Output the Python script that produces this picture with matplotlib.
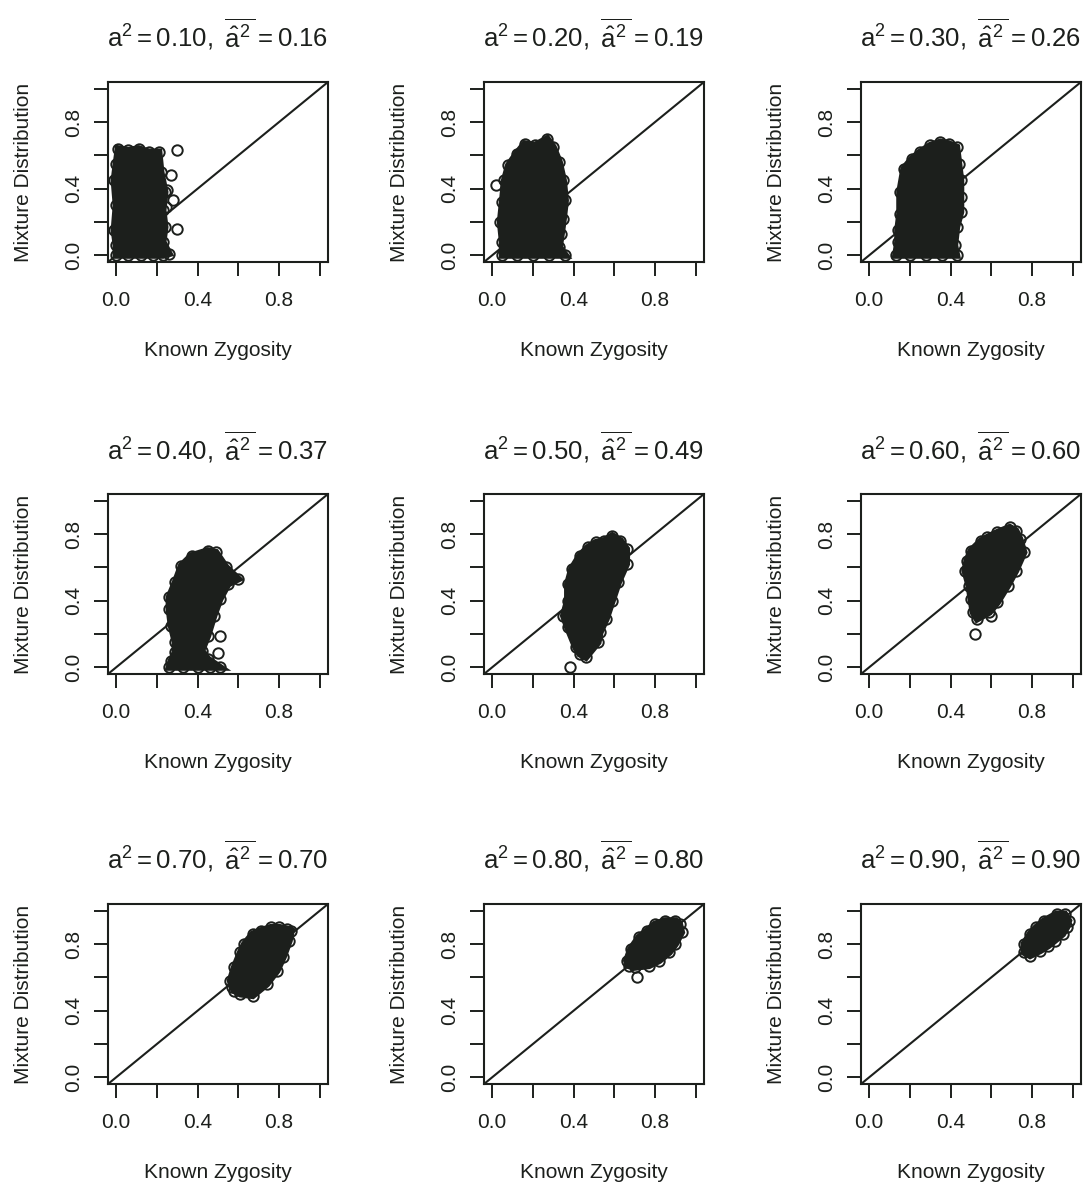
import matplotlib
matplotlib.use('Agg')
import matplotlib.pyplot as plt
import numpy as np

plt.rcParams['font.family'] = ['Liberation Sans', 'DejaVu Sans']
plt.rcParams['mathtext.fontset'] = 'custom'
plt.rcParams['mathtext.rm'] = 'Liberation Sans'
plt.rcParams['mathtext.it'] = 'Liberation Sans:italic'
plt.rcParams['mathtext.bf'] = 'Liberation Sans:bold'

# true and mean estimated a^2 for each panel
true_a2 = [0.10, 0.20, 0.30, 0.40, 0.50, 0.60, 0.70, 0.80, 0.90]
est_a2 = [0.16, 0.19, 0.26, 0.37, 0.49, 0.60, 0.70, 0.80, 0.90]

tick_vals = [0.0, 0.2, 0.4, 0.6, 0.8, 1.0]
tick_labels = ['0.0', '', '0.4', '', '0.8', '']

# outline of each point cloud (centres of the edge circles)
edge10_x = [0.00, 0.06, 0.12, 0.18, 0.23, 0.26, 0.23, 0.24, 0.23, 0.24, 0.22, 0.21, 0.16, 0.11, 0.06, 0.01, 0.00, -0.01, 0.00, -0.01, 0.00]
edge10_y = [0.00, 0.00, 0.00, 0.00, 0.00, 0.01, 0.08, 0.17, 0.27, 0.38, 0.50, 0.62, 0.62, 0.64, 0.63, 0.64, 0.55, 0.45, 0.30, 0.15, 0.06]
edge20_x = [0.05, 0.12, 0.20, 0.28, 0.36, 0.33, 0.34, 0.35, 0.36, 0.35, 0.33, 0.30, 0.27, 0.21, 0.16, 0.12, 0.08, 0.06, 0.05, 0.04, 0.05]
edge20_y = [0.00, 0.00, 0.00, 0.00, 0.00, 0.05, 0.13, 0.22, 0.33, 0.45, 0.56, 0.65, 0.70, 0.66, 0.67, 0.61, 0.54, 0.45, 0.32, 0.20, 0.08]
edge30_x = [0.13, 0.20, 0.28, 0.36, 0.43, 0.42, 0.43, 0.45, 0.45, 0.45, 0.44, 0.43, 0.39, 0.35, 0.30, 0.25, 0.21, 0.17, 0.15, 0.15, 0.14, 0.14]
edge30_y = [0.00, 0.00, 0.00, 0.00, 0.00, 0.06, 0.17, 0.26, 0.35, 0.45, 0.55, 0.65, 0.67, 0.68, 0.66, 0.62, 0.58, 0.52, 0.38, 0.25, 0.15, 0.08]
edge40_x = [0.26, 0.33, 0.40, 0.46, 0.51, 0.45, 0.42, 0.45, 0.48, 0.51, 0.55, 0.60, 0.54, 0.49, 0.45, 0.37, 0.32, 0.29, 0.26, 0.26, 0.27, 0.29, 0.29, 0.27]
edge40_y = [0.00, 0.00, 0.00, 0.00, 0.00, 0.05, 0.10, 0.19, 0.31, 0.41, 0.50, 0.53, 0.60, 0.69, 0.70, 0.67, 0.61, 0.51, 0.42, 0.35, 0.25, 0.15, 0.09, 0.04]
edge50_x = [0.46, 0.52, 0.53, 0.56, 0.59, 0.62, 0.66, 0.66, 0.63, 0.59, 0.55, 0.51, 0.47, 0.43, 0.39, 0.37, 0.37, 0.35, 0.37, 0.41, 0.43]
edge50_y = [0.06, 0.15, 0.21, 0.29, 0.40, 0.51, 0.62, 0.71, 0.76, 0.79, 0.76, 0.75, 0.72, 0.67, 0.59, 0.50, 0.40, 0.31, 0.24, 0.12, 0.08]
edge60_x = [0.53, 0.59, 0.63, 0.68, 0.72, 0.76, 0.74, 0.72, 0.69, 0.63, 0.58, 0.55, 0.50, 0.48, 0.47, 0.49, 0.50, 0.51]
edge60_y = [0.29, 0.33, 0.39, 0.49, 0.58, 0.69, 0.77, 0.82, 0.84, 0.81, 0.78, 0.76, 0.70, 0.64, 0.58, 0.49, 0.41, 0.33]
edge70_x = [0.61, 0.67, 0.74, 0.79, 0.82, 0.85, 0.86, 0.84, 0.80, 0.76, 0.71, 0.67, 0.63, 0.61, 0.58, 0.56, 0.57, 0.58]
edge70_y = [0.50, 0.49, 0.56, 0.64, 0.72, 0.82, 0.88, 0.89, 0.90, 0.90, 0.88, 0.86, 0.80, 0.75, 0.66, 0.58, 0.54, 0.52]
edge80_x = [0.70, 0.77, 0.82, 0.87, 0.90, 0.93, 0.92, 0.90, 0.85, 0.80, 0.76, 0.72, 0.68, 0.66, 0.67]
edge80_y = [0.66, 0.67, 0.70, 0.75, 0.80, 0.87, 0.92, 0.94, 0.94, 0.92, 0.88, 0.84, 0.77, 0.70, 0.67]
edge90_x = [0.79, 0.84, 0.88, 0.91, 0.95, 0.97, 0.98, 0.96, 0.92, 0.86, 0.82, 0.79, 0.76, 0.76]
edge90_y = [0.73, 0.76, 0.79, 0.82, 0.86, 0.90, 0.94, 0.98, 0.98, 0.94, 0.90, 0.86, 0.80, 0.75]

# isolated points outside the clouds
out10_x = [0.30, 0.27, 0.28, 0.30, 0.245, 0.25]
out10_y = [0.63, 0.48, 0.33, 0.16, 0.29, 0.39]
out20_x = [0.02, 0.345]
out20_y = [0.42, 0.31]
out30_x = []
out30_y = []
out40_x = [0.51, 0.50]
out40_y = [0.19, 0.085]
out50_x = [0.38]
out50_y = [0.00]
out60_x = [0.52, 0.60]
out60_y = [0.20, 0.31]
out70_x = []
out70_y = []
out80_x = [0.71]
out80_y = [0.60]
out90_x = []
out90_y = []

edges = [(edge10_x, edge10_y), (edge20_x, edge20_y), (edge30_x, edge30_y),
         (edge40_x, edge40_y), (edge50_x, edge50_y), (edge60_x, edge60_y),
         (edge70_x, edge70_y), (edge80_x, edge80_y), (edge90_x, edge90_y)]
outs = [(out10_x, out10_y), (out20_x, out20_y), (out30_x, out30_y),
        (out40_x, out40_y), (out50_x, out50_y), (out60_x, out60_y),
        (out70_x, out70_y), (out80_x, out80_y), (out90_x, out90_y)]

ink = '#1c1f1c'
W, H = 1086, 1188
col_left = [108, 484, 861]
row_top = [82, 494, 904]
aw, ah = 220, 180

fig = plt.figure(figsize=(W / 100, H / 100), dpi=100)

for i in range(9):
    r, c = divmod(i, 3)
    ax = fig.add_axes([col_left[c] / W, 1 - (row_top[r] + ah) / H, aw / W, ah / H])
    ax.set_xlim(-0.04, 1.04)
    ax.set_ylim(-0.04, 1.04)

    ex, ey = edges[i]
    ax.fill(ex, ey, facecolor=ink, edgecolor=ink, lw=5, zorder=2)
    ax.plot(ex, ey, 'o', mfc='none', mec=ink, ms=7.5, mew=1.4, zorder=3)
    ox, oy = outs[i]
    ax.plot(ox, oy, 'o', mfc='none', mec=ink, ms=7.5, mew=1.4, zorder=3)
    ax.axline((0, 0), slope=1, color=ink, lw=1.5, zorder=4)

    ax.set_xticks(tick_vals)
    ax.set_xticklabels(tick_labels)
    ax.set_yticks(tick_vals)
    ax.set_yticklabels(tick_labels, rotation=90, va='center')
    ax.tick_params(axis='both', length=10, width=1.4, color=ink, labelsize=15, labelcolor=ink)
    ax.tick_params(axis='x', pad=11)
    ax.tick_params(axis='y', pad=8)
    for s in ax.spines.values():
        s.set_linewidth(1.5)
        s.set_color(ink)

    ax.set_xlabel('Known Zygosity', fontsize=15, color=ink)
    ax.xaxis.set_label_coords(0.5, -79 / ah)
    ax.set_ylabel('Mixture Distribution', fontsize=15, color=ink)
    ax.yaxis.set_label_coords(-75 / aw, 0.5)

    title = (r'$\mathrm{a}^2 = %.2f,\ \overline{\hat{\mathrm{a}}^{2}\,} = %.2f$'
             % (true_a2[i], est_a2[i]))
    ax.text(0.5, 1 + 35 / ah, title, transform=ax.transAxes, ha='center',
            va='baseline', fontsize=18.5, color=ink)

fig.savefig('out.png', dpi=100, facecolor='white')
